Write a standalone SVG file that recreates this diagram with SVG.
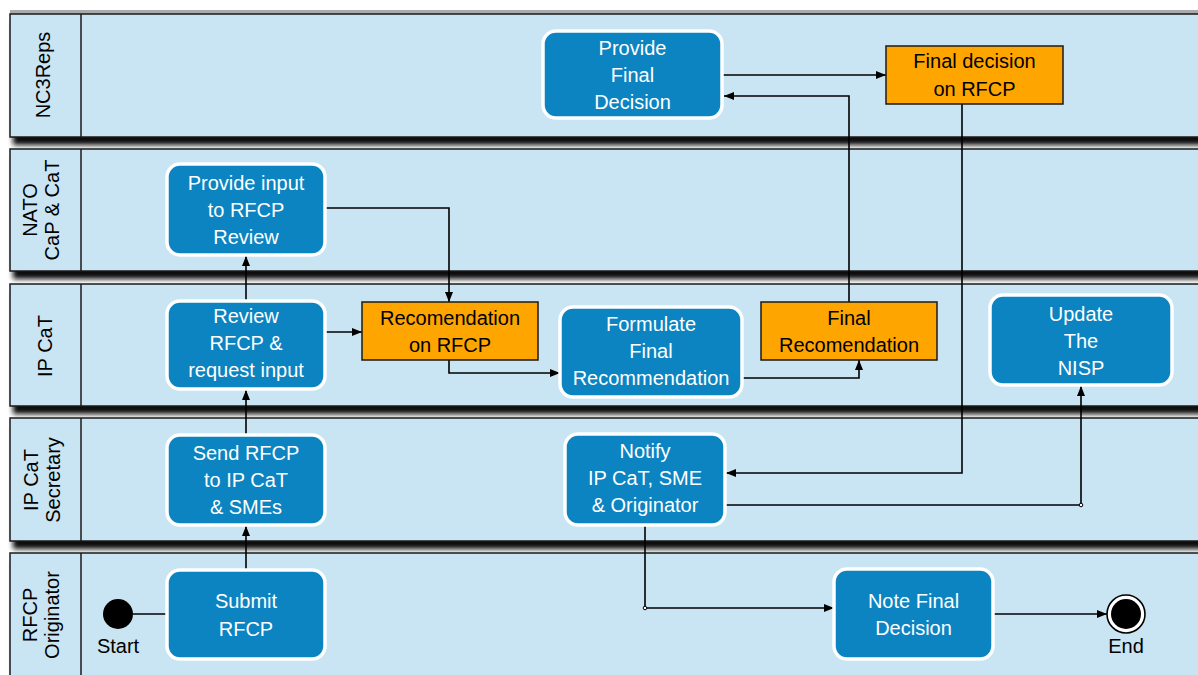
<svg xmlns="http://www.w3.org/2000/svg" width="1198" height="675" viewBox="0 0 1198 675">
<style>
.lane{fill:#c9e4f2;stroke:#1a1a1a;stroke-width:1.5}
.div{stroke:#1a1a1a;stroke-width:1.5}
.shadow{fill:#111;filter:url(#blur)}
.lbl{font-family:"Liberation Sans",Arial,sans-serif;font-size:20px;fill:#000;text-anchor:middle}
.node{fill:#0b84c1;stroke:#fff;stroke-width:3.5}
.onode{fill:#ffa500;stroke:#1a1a1a;stroke-width:1.5}
.t{font-family:"Liberation Sans",Arial,sans-serif;font-size:20px;fill:#fff;text-anchor:middle}
.ot{font-family:"Liberation Sans",Arial,sans-serif;font-size:20px;fill:#000;text-anchor:middle}
.c{fill:none;stroke:#000;stroke-width:1.6}
.ca{fill:none;stroke:#000;stroke-width:1.6;marker-end:url(#arr)}
</style>
<defs>
<filter id="blur" x="-5%" y="-30%" width="110%" height="160%">
<feGaussianBlur stdDeviation="2.8"/>
</filter>
<marker id="arr" viewBox="0 0 10 8" refX="10" refY="4" markerWidth="10" markerHeight="8" markerUnits="userSpaceOnUse" orient="auto">
<path d="M0,0 L10,4 L0,8 z" fill="#000"/>
</marker>
</defs>
<rect x="0" y="0" width="1198" height="675" fill="#fff"/>
<g id="lanes">
<rect x="10" y="10" width="1190" height="4" fill="#aaa"/>
<rect class="shadow" x="13" y="22" width="1200" height="123"/>
<rect class="shadow" x="13" y="157" width="1200" height="122"/>
<rect class="shadow" x="13" y="292" width="1200" height="122"/>
<rect class="shadow" x="13" y="426" width="1200" height="123"/>
<rect class="shadow" x="13" y="561" width="1200" height="130"/>
<g id="lane-nc3reps">
<rect class="lane" x="10" y="14" width="1200" height="123"/>
<line class="div" x1="81" y1="14" x2="81" y2="137"/>
<text class="lbl" transform="translate(50,75) rotate(-90)">NC3Reps</text>
</g>
<g id="lane-nato">
<rect class="lane" x="10" y="149" width="1200" height="122"/>
<line class="div" x1="81" y1="149" x2="81" y2="271"/>
<text class="lbl" transform="translate(37,210) rotate(-90)">NATO</text>
<text class="lbl" transform="translate(59,210) rotate(-90)">CaP &amp; CaT</text>
</g>
<g id="lane-ipcat">
<rect class="lane" x="10" y="284" width="1200" height="122"/>
<line class="div" x1="81" y1="284" x2="81" y2="406"/>
<text class="lbl" transform="translate(52,346) rotate(-90)">IP CaT</text>
</g>
<g id="lane-secretary">
<rect class="lane" x="10" y="418" width="1200" height="123"/>
<line class="div" x1="81" y1="418" x2="81" y2="541"/>
<text class="lbl" transform="translate(38,480) rotate(-90)">IP CaT</text>
<text class="lbl" transform="translate(60,480) rotate(-90)">Secretary</text>
</g>
<g id="lane-originator">
<rect class="lane" x="10" y="553" width="1200" height="130"/>
<line class="div" x1="81" y1="553" x2="81" y2="683"/>
<text class="lbl" transform="translate(37,615) rotate(-90)">RFCP</text>
<text class="lbl" transform="translate(59,615) rotate(-90)">Originator</text>
</g>
</g>
<g id="connectors">
<line class="c" x1="133" y1="614" x2="167" y2="614"/>
<line class="ca" x1="246" y1="570" x2="246" y2="526"/>
<line class="ca" x1="246" y1="435" x2="246" y2="390"/>
<line class="ca" x1="246" y1="301" x2="246" y2="256"/>
<line class="ca" x1="326" y1="332" x2="362" y2="332"/>
<polyline class="ca" points="326,208 449,208 449,302"/>
<polyline class="ca" points="449,360 449,373 560,373"/>
<polyline class="ca" points="742,378 859,378 859,360"/>
<polyline class="ca" points="849,302 849,96 724,96"/>
<line class="ca" x1="723" y1="75" x2="886" y2="75"/>
<polyline class="ca" points="962,104 962,473 726,473"/>
<polyline class="ca" points="726,505 1081,505 1081,386"/>
<polyline class="ca" points="645,526 645,608 834,608"/>
<line class="ca" x1="993" y1="614" x2="1107" y2="614"/>
<circle cx="1081" cy="505" r="1.8" fill="#fff" stroke="#000" stroke-width="1"/>
<circle cx="645" cy="608" r="1.8" fill="#fff" stroke="#000" stroke-width="1"/>
</g>
<g id="start">
<circle cx="118" cy="614" r="15" fill="#000"/>
<text class="ot" x="118" y="653">Start</text>
</g>
<g id="end">
<circle cx="1126" cy="614" r="19" fill="#fff" stroke="#000" stroke-width="1.6"/>
<circle cx="1126" cy="614" r="15" fill="#000"/>
<text class="ot" x="1126" y="653">End</text>
</g>
<g id="provide-final-decision">
<rect class="node" x="543" y="31" width="179" height="87" rx="13"/>
<text class="t" x="632.5" y="55">Provide</text>
<text class="t" x="632.5" y="82">Final</text>
<text class="t" x="632.5" y="109">Decision</text>
</g>
<g id="final-decision-on-rfcp">
<rect class="onode" x="886" y="46" width="177" height="58"/>
<text class="ot" x="974.5" y="68">Final decision</text>
<text class="ot" x="974.5" y="96">on RFCP</text>
</g>
<g id="provide-input">
<rect class="node" x="167" y="164" width="158" height="91" rx="13"/>
<text class="t" x="246" y="190">Provide input</text>
<text class="t" x="246" y="217">to RFCP</text>
<text class="t" x="246" y="244">Review</text>
</g>
<g id="review-rfcp">
<rect class="node" x="167" y="301" width="158" height="88" rx="13"/>
<text class="t" x="246" y="323">Review</text>
<text class="t" x="246" y="350">RFCP &amp;</text>
<text class="t" x="246" y="377">request input</text>
</g>
<g id="recomendation-on-rfcp">
<rect class="onode" x="362" y="302" width="176" height="58"/>
<text class="ot" x="450" y="325">Recomendation</text>
<text class="ot" x="450" y="352">on RFCP</text>
</g>
<g id="formulate-final-recommendation">
<rect class="node" x="560" y="307" width="182" height="90" rx="13"/>
<text class="t" x="651" y="331">Formulate</text>
<text class="t" x="651" y="358">Final</text>
<text class="t" x="651" y="385">Recommendation</text>
</g>
<g id="final-recomendation">
<rect class="onode" x="761" y="302" width="176" height="58"/>
<text class="ot" x="849" y="325">Final</text>
<text class="ot" x="849" y="352">Recomendation</text>
</g>
<g id="update-nisp">
<rect class="node" x="990" y="295" width="182" height="90" rx="13"/>
<text class="t" x="1081" y="321">Update</text>
<text class="t" x="1081" y="348">The</text>
<text class="t" x="1081" y="375">NISP</text>
</g>
<g id="send-rfcp">
<rect class="node" x="167" y="435" width="158" height="90" rx="13"/>
<text class="t" x="246" y="460">Send RFCP</text>
<text class="t" x="246" y="487">to IP CaT</text>
<text class="t" x="246" y="514">&amp; SMEs</text>
</g>
<g id="notify">
<rect class="node" x="565" y="434" width="160" height="91" rx="13"/>
<text class="t" x="645" y="458">Notify</text>
<text class="t" x="645" y="485">IP CaT, SME</text>
<text class="t" x="645" y="512">&amp; Originator</text>
</g>
<g id="submit-rfcp">
<rect class="node" x="167" y="570" width="158" height="89" rx="13"/>
<text class="t" x="246" y="608">Submit</text>
<text class="t" x="246" y="636">RFCP</text>
</g>
<g id="note-final-decision">
<rect class="node" x="834" y="569" width="159" height="90" rx="13"/>
<text class="t" x="913.5" y="608">Note Final</text>
<text class="t" x="913.5" y="635">Decision</text>
</g>
</svg>
